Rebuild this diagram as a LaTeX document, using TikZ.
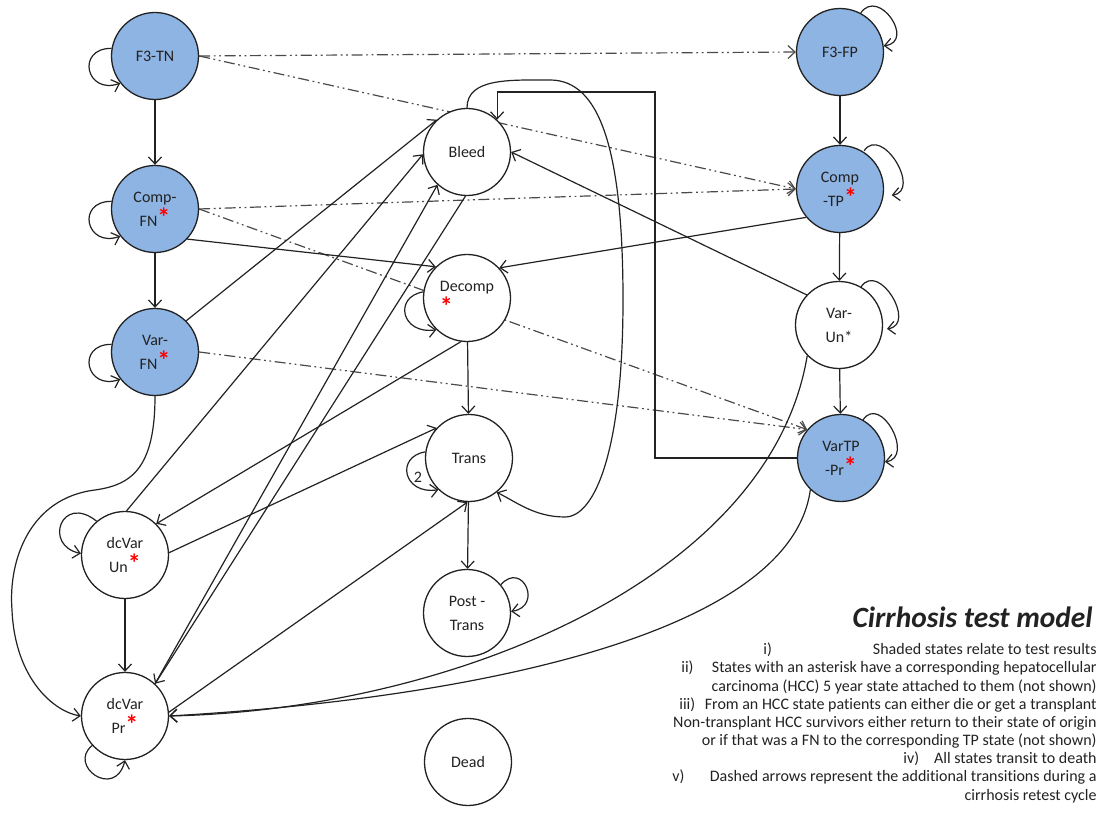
\documentclass[tikz,border=0pt]{standalone}
\usepackage{fontspec}
\setmainfont{Carlito}[Ligatures=NoCommon]
\usepackage{xcolor}
\usepackage{tikz}
\usetikzlibrary{arrows.meta,backgrounds}
\definecolor{cmFill}{HTML}{8EB4E3}
\definecolor{cmInk}{HTML}{222222}
\definecolor{cmDash}{HTML}{4A4A4A}
\definecolor{cmStar}{HTML}{FF0000}
\newcommand{\hccstar}{\smash{\textcolor{cmStar}{\bfseries\fontsize{13}{12}\selectfont *}}}
\tikzset{
  cm diagram/.style={font=\fontsize{8}{12}\selectfont, text=cmInk,
    line join=round},
  cm state/.style={circle, draw=cmInk, fill=white, line width=0.65pt,
    minimum size=43.5pt, inner sep=0pt, align=center},
  cm test state/.style={cm state, fill=cmFill},
  cm arrow/.style={-{Straight Barb[length=3.5pt,width=6.5pt]}, draw=cmInk,
    line width=0.6pt},
  cm retest/.style={cm arrow, draw=cmDash,
    dash pattern=on 5.5pt off 1.8pt on 0.9pt off 1.8pt on 0.9pt off 1.8pt},
  cm legend/.style={font=\fontsize{8}{9}\selectfont, anchor=base east,
    inner sep=0pt},
  cm numeral/.style={cm legend, anchor=base west},
  cm title/.style={font=\fontsize{14.7}{16}\selectfont\bfseries\itshape,
    anchor=base east, inner sep=0pt}
}

\begin{document}
\begin{tikzpicture}[cm diagram,x=0.5pt,y=-0.5pt]
\useasboundingbox (0,0) rectangle (1110,817);
% states
\node[cm test state] (f3tn) at (155,56) {F3-TN};
\node[cm test state] (compfn) at (155,209) {Comp-\\FN\hccstar};
\node[cm test state] (varfn) at (155,352) {Var-\\FN\hccstar};
\node[cm state] (dcvarun) at (125,555) {dcVar\\Un\hccstar};
\node[cm state] (dcvarpr) at (125,716) {dcVar\\Pr\hccstar};
\node[cm state] (bleed) at (467,152) {Bleed};
\node[cm state,align=left] (decomp) at (467,298) {Decomp\\\hccstar};
\node[cm state] (trans) at (469,458) {Trans};
\node[cm state] (posttrans) at (467,613) {Post -\\Trans};
\node[cm state] (dead) at (468,762) {Dead};
\node[cm test state] (f3fp) at (840,52) {F3-FP};
\node[cm test state] (comptp) at (840,189) {Comp\\-TP\hccstar};
\node[cm state] (varun) at (839,325) {Var-\\Un*};
\node[cm test state] (vartppr) at (841,458) {VarTP\\-Pr\hccstar};
\node (transloop) at (418,477) {2};
\coordinate (bend) at (655,92);

\begin{scope}[on background layer]
% retest cycle
\draw[cm retest] (f3tn.east) -- (f3fp.west);
\draw[cm retest] (f3tn.east) -- (comptp.west);
\draw[cm retest] (compfn.east) -- (comptp.west);
\draw[cm retest] (compfn.east) -- (vartppr.140);
\draw[cm retest] (varfn.east) -- (vartppr.140);
% left column
\draw[cm arrow] (f3tn) -- (compfn);
\draw[cm arrow] (compfn) -- (varfn);
\draw[cm arrow] (compfn.-43) -- (decomp.135);
\draw[cm arrow] (varfn.45) -- (bleed.133);
\draw[cm arrow] (varfn.south) .. controls (155,470) and (130,485) .. (95,490)
  .. controls (30,498) and (8,560) .. (12,610)
  .. controls (15,680) and (55,712) .. (dcvarpr.west);
\draw[cm arrow] (dcvarun) -- (dcvarpr);
\draw[cm arrow] (dcvarun.88) -- (bleed.183);
\draw[cm arrow] (dcvarun.3) -- (trans.137);
\draw[cm arrow] (dcvarpr.47) -- (bleed.228);
\draw[cm arrow] (dcvarpr.5) -- (trans.268);
% middle column
\draw[cm arrow] (bleed.268) -- (dcvarpr.47);
\draw[cm arrow] (decomp.262) -- (dcvarun.45);
\draw[cm arrow] (decomp) -- (trans);
\draw[cm arrow] (trans) -- (posttrans);
\draw[cm arrow] (bleed.north) .. controls +(0,-30) and +(-40,0) .. (550,80)
  .. controls +(50,0) and +(0,-150) .. (623,300)
  .. controls +(0,150) and +(30,0) .. (565,517)
  .. controls +(-30,0) and +(20,10) .. (trans.-51);
% right column
\draw[cm arrow] (f3fp) -- (comptp);
\draw[cm arrow] (comptp) -- (varun);
\draw[cm arrow] (varun) -- (vartppr);
\draw[cm arrow] (comptp.220) -- (decomp.43);
\draw[cm arrow] (varun.137) -- (bleed.0);
\draw[cm arrow] (vartppr.west) -| (bend) -| (bleed.47);
\draw[cm arrow] (varun.224) .. controls (770,580) and (450,710) .. (dcvarpr.east);
\draw[cm arrow] (vartppr.226) .. controls (790,640) and (450,700) .. (dcvarpr.east);
% self transitions
\draw[cm arrow] (f3tn.170) .. controls +(-36,0) and +(-34,12) .. (f3tn.218);
\draw[cm arrow] (compfn.170) .. controls +(-36,0) and +(-34,12) .. (compfn.218);
\draw[cm arrow] (varfn.170) .. controls +(-36,0) and +(-34,12) .. (varfn.218);
\draw[cm arrow] (dcvarun.130) .. controls +(-35,-28) and +(-38,-8) .. (dcvarun.178);
\draw[cm arrow] (dcvarpr.222) .. controls +(-25,20) and +(-10,40) .. (dcvarpr.270);
\draw[cm arrow] (decomp.172) .. controls +(-30,5) and +(-35,5) .. (decomp.226);
\draw[cm arrow] (trans.172) .. controls +(-30,5) and +(-35,5) .. (trans.226);
\draw[cm arrow] (posttrans.40) .. controls +(22,-24) and +(32,-5) .. (posttrans.2);
\draw[cm arrow] (f3fp.62) .. controls +(18,-26) and +(32,-4) .. (f3fp.8);
\draw[cm arrow] ([xshift=1pt]comptp.60) .. controls +(18,-26) and +(30,-4) .. ([xshift=4pt]comptp.352);
\draw[cm arrow] (varun.60) .. controls +(18,-26) and +(30,-4) .. ([xshift=2pt]varun.355);
\draw[cm arrow] (vartppr.60) .. controls +(18,-26) and +(30,-4) .. (vartppr.355);
\end{scope}

% key
\node[cm title] (title) at (1093,628) {Cirrhosis test model};
\node[cm numeral] (numi) at (763,655) {i)};
\node[cm legend] (keyi) at (1097,655) {Shaded states relate to test results};
\node[cm numeral] (numii) at (681,673) {ii)};
\node[cm legend] (keyiia) at (1097,673) {States with an asterisk have a corresponding hepatocellular};
\node[cm legend] (keyiib) at (1097,692) {carcinoma (HCC) 5 year state attached to them (not shown)};
\node[cm numeral] (numiii) at (679,710) {iii)};
\node[cm legend] (keyiiia) at (1097,710) {From an HCC state patients can either die or get a transplant};
\node[cm legend] (keyiiib) at (1097,728) {Non-transplant HCC survivors either return to their state of origin};
\node[cm legend] (keyiiic) at (1097,746) {or if that was a FN to the corresponding TP state (not shown)};
\node[cm numeral] (numiv) at (903,764) {iv)};
\node[cm legend] (keyiv) at (1097,764) {All states transit to death};
\node[cm numeral] (numv) at (672,782) {v)};
\node[cm legend] (keyva) at (1097,782) {Dashed arrows represent the additional transitions during a};
\node[cm legend] (keyvb) at (1097,801) {cirrhosis retest cycle};
\end{tikzpicture}
\end{document}
